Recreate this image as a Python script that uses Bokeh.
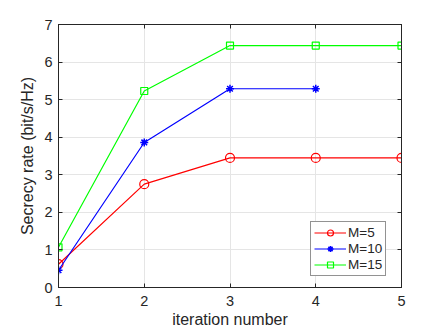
from bokeh.plotting import figure
from bokeh.models import Range1d, LinearAxis, FixedTicker, Legend, LegendItem
from bokeh.embed import file_html
from bokeh.resources import INLINE

iterations_5 = [1, 2, 3, 4, 5]
rate_m5 = [0.62, 2.75, 3.45, 3.45, 3.45]
iterations_10 = [1, 2, 3, 4]
rate_m10 = [0.46, 3.86, 5.29, 5.29]
iterations_15 = [1, 2, 3, 4, 5]
rate_m15 = [1.07, 5.23, 6.44, 6.44, 6.44]
x_ticks = [1, 2, 3, 4, 5]
y_ticks = [0, 1, 2, 3, 4, 5, 6, 7]

FONT = "Liberation Sans"
TXT = "#262626"

p = figure(width=443, height=332, output_backend="svg", toolbar_location=None,
           x_range=Range1d(1, 5), y_range=Range1d(0, 7),
           min_border_left=58, min_border_right=42, min_border_top=24, min_border_bottom=45)
p.outline_line_color = TXT
p.outline_line_width = 1

for ax in (p.xaxis[0], p.yaxis[0]):
    ax.major_tick_out = 0
    ax.major_tick_in = 4
    ax.minor_tick_out = 0
    ax.minor_tick_in = 0
    ax.axis_line_color = TXT
    ax.major_tick_line_color = TXT
    ax.major_label_text_color = TXT
    ax.major_label_text_font = FONT
    ax.major_label_text_font_size = "14.5px"
    ax.axis_label_text_font = FONT
    ax.axis_label_text_font_size = "16px"
    ax.axis_label_text_font_style = "normal"
    ax.axis_label_text_color = TXT

p.xaxis[0].ticker = FixedTicker(ticks=x_ticks)
p.yaxis[0].ticker = FixedTicker(ticks=y_ticks)
p.xaxis[0].axis_label = "iteration number"
p.yaxis[0].axis_label = "Secrecy rate (bit/s/Hz)"
p.xaxis[0].major_label_standoff = 8
p.yaxis[0].major_label_standoff = 6
p.xaxis[0].axis_label_standoff = 2
p.yaxis[0].axis_label_standoff = 5

for loc, tk in (("above", x_ticks), ("right", y_ticks)):
    a = LinearAxis(ticker=FixedTicker(ticks=tk), major_tick_out=0, major_tick_in=4,
                   minor_tick_in=0, minor_tick_out=0, axis_line_color=TXT,
                   major_tick_line_color=TXT, major_label_text_font_size="0px",
                   major_label_standoff=0)
    a.major_label_overrides = {t: "" for t in tk}
    p.add_layout(a, loc)

p.xgrid.ticker = FixedTicker(ticks=x_ticks)
p.ygrid.ticker = FixedTicker(ticks=y_ticks)
p.grid.grid_line_color = "#e5e5e5"
p.grid.grid_line_width = 1

r5 = p.line(iterations_5, rate_m5, line_color="red", line_width=1.2)
m5 = p.scatter(iterations_5, rate_m5, marker="circle", size=9, fill_color=None,
               line_color="red", line_width=1.2)
r10 = p.line(iterations_10, rate_m10, line_color="blue", line_width=1.2)
m10 = p.scatter(iterations_10, rate_m10, marker="asterisk", size=8,
                line_color="blue", line_width=1.5)
r15 = p.line(iterations_15, rate_m15, line_color="#00ff00", line_width=1.2)
m15 = p.scatter(iterations_15, rate_m15, marker="square", size=7, fill_color=None,
                line_color="#00ff00", line_width=1.2)

legend = Legend(items=[
    LegendItem(label="M=5", renderers=[r5, m5]),
    LegendItem(label="M=10", renderers=[r10, m10]),
    LegendItem(label="M=15", renderers=[r15, m15]),
], location=(252, 11))
legend.label_text_font = FONT
legend.label_text_font_size = "13.5px"
legend.label_text_color = TXT
legend.border_line_color = TXT
legend.border_line_width = 1
legend.background_fill_alpha = 1
legend.glyph_width = 32
legend.glyph_height = 15
legend.label_height = 15
legend.label_standoff = 2
legend.spacing = 1
legend.padding = 3
legend.margin = 0
p.add_layout(legend, "center")

open("out.html", "w").write(file_html(p, INLINE))
